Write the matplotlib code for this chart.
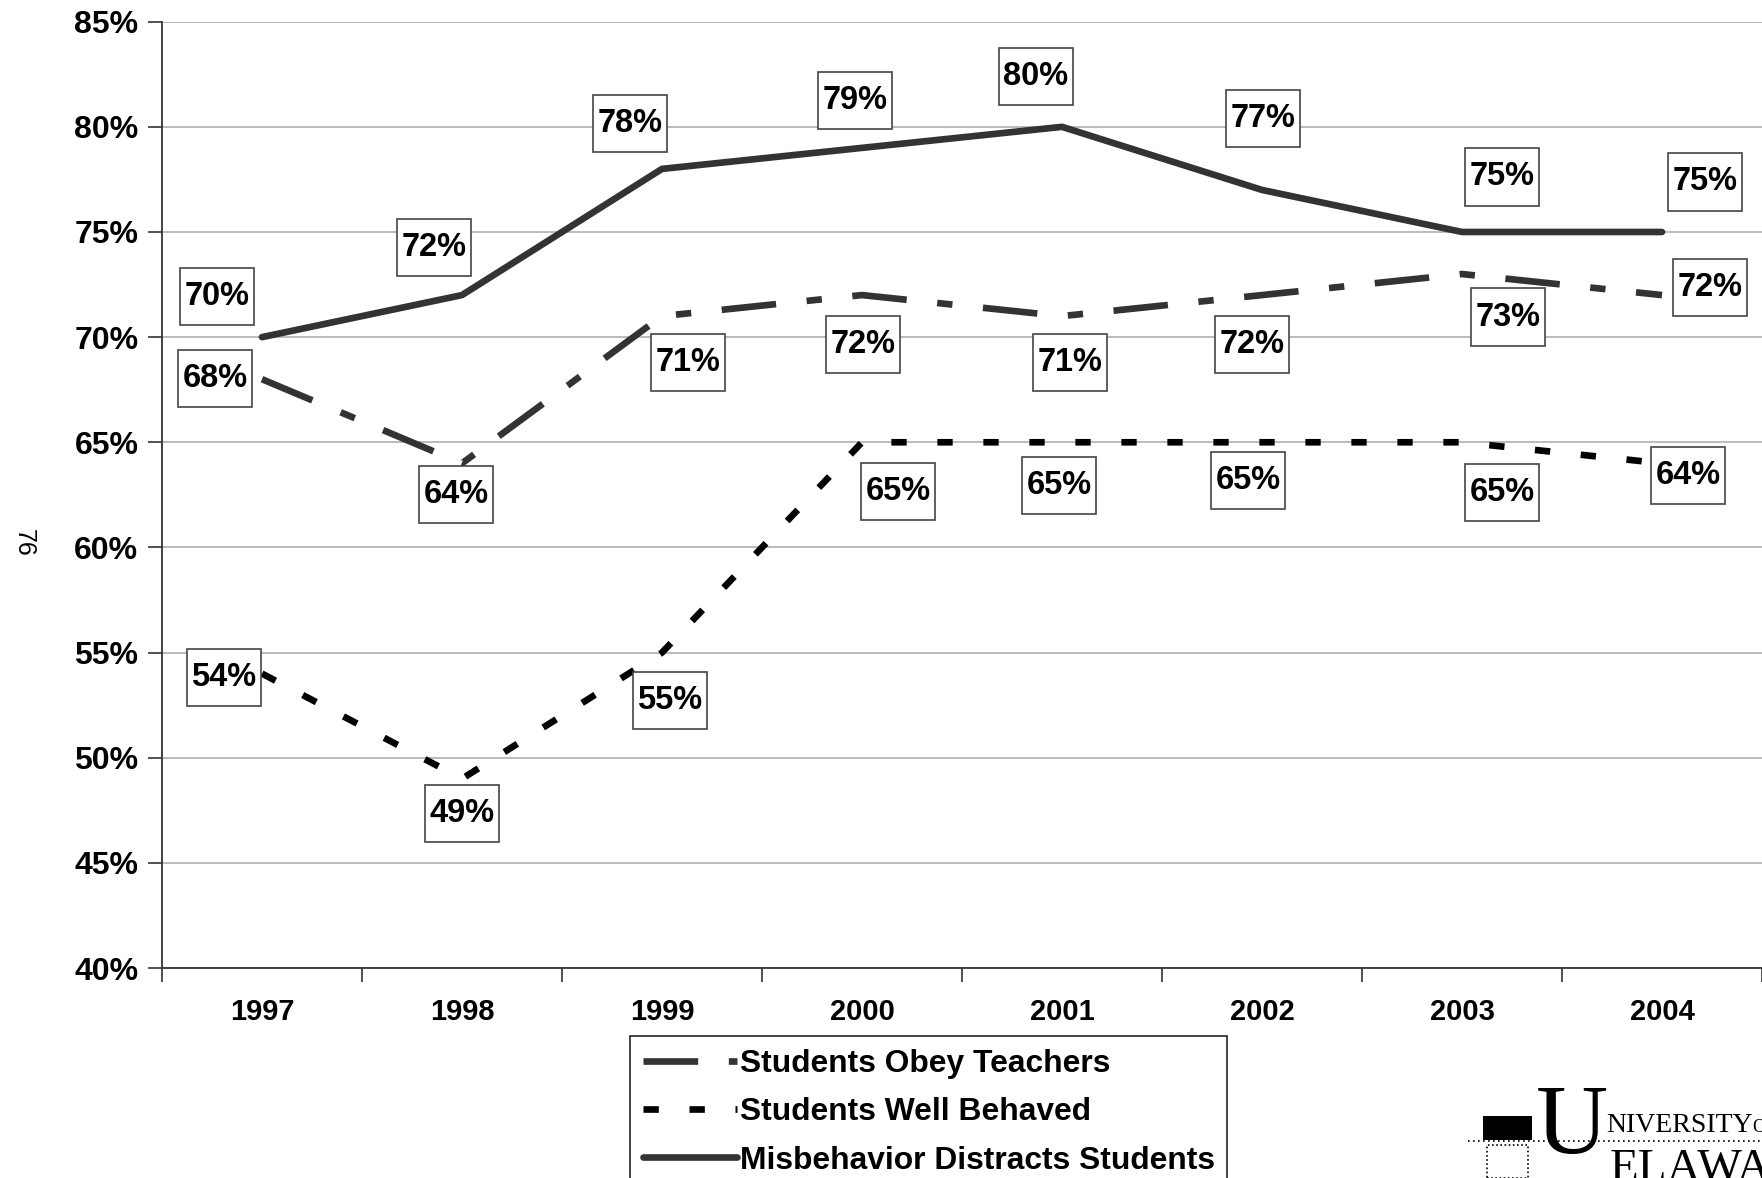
import matplotlib
matplotlib.use("Agg")
import matplotlib.pyplot as plt
from matplotlib.path import Path
from matplotlib.patches import Rectangle
from matplotlib.lines import Line2D

plt.rcParams['font.family'] = ['Liberation Sans', 'DejaVu Sans']

# data
years = ['1997', '1998', '1999', '2000', '2001', '2002', '2003', '2004']
obey = [68, 64, 71, 72, 71, 72, 73, 72]
behaved = [54, 49, 55, 65, 65, 65, 65, 64]
distracts = [70, 72, 78, 79, 80, 77, 75, 75]
yticks = [40, 45, 50, 55, 60, 65, 70, 75, 80, 85]

# where each value box sits relative to its point (pixels, y down)
distracts_off = [(-45, -40), (-28, -47), (-32, -44), (-7, -46), (-26, -49), (1, -70), (40, -54), (43, -49)]
obey_off = [(-47, 0), (-6, 32), (26, 47), (1, 50), (8, 47), (-10, 50), (46, 44), (48, -7)]
behaved_off = [(-38, 5), (0, 36), (8, 49), (36, 50), (-3, 44), (-14, 39), (40, 51), (26, 13)]

W, H = 1762, 1178


def label_box(x0, y0, width, height, mutation_size):
    # square box, tight left/right, taller top/bottom
    px = 0.15 * mutation_size
    py = 0.4 * mutation_size
    x0, y0 = x0 - px, y0 - py
    x1, y1 = x0 + width + 2 * px, y0 + height + 2 * py
    return Path([(x0, y0), (x1, y0), (x1, y1), (x0, y1), (x0, y0)], closed=True)


fig = plt.figure(figsize=(W / 100, H / 100), dpi=100)
ax = fig.add_axes([162 / W, 1 - 968 / H, 1600 / W, (968 - 21.7) / H])

x = list(range(len(years)))
lw = 4.8
ax.plot(x, obey, color='#333333', lw=lw, dashes=(8.2, 4.6, 2.3, 4.6),
        label='Students Obey Teachers', zorder=3)
ax.plot(x, behaved, color='black', lw=lw, dashes=(2.3, 4.6),
        label='Students Well Behaved', zorder=3)
ax.plot(x, distracts, color='#333333', lw=lw, solid_capstyle='round',
        solid_joinstyle='round', label='Misbehavior Distracts Students', zorder=3)

for series, offs in [(distracts, distracts_off), (obey, obey_off), (behaved, behaved_off)]:
    for i, v in enumerate(series):
        dx, dy = offs[i]
        ax.annotate(f'{v}%', (i, v), xytext=(dx, -dy + 1), textcoords='offset pixels',
                    ha='center', va='center', fontsize=23.5, fontweight='bold', zorder=5,
                    bbox=dict(boxstyle=label_box, fc='white', ec='#444444', lw=1.2))

ax.set_xlim(-0.5, 7.5)
ax.set_ylim(40, 85)
ax.set_yticks(yticks)
ax.set_yticklabels([f'{v}%' for v in yticks])
ax.set_xticks(x)
ax.set_xticklabels(years)
ax.set_xticks([i - 0.5 for i in range(len(years) + 1)], minor=True)

ax.yaxis.grid(True, color='#a8a8a8', lw=1.1)
ax.set_axisbelow(True)
for s in ['top', 'right']:
    ax.spines[s].set_visible(False)
for s in ['left', 'bottom']:
    ax.spines[s].set_color('#333333')
    ax.spines[s].set_linewidth(1.3)

ax.tick_params(axis='y', length=10, width=1.2, color='#333333', pad=7, labelsize=23)
ax.tick_params(axis='x', which='major', length=0, pad=21.5, labelsize=21)
ax.tick_params(axis='x', which='minor', length=10, width=1.2, color='#333333')
for t in ax.get_yticklabels() + ax.get_xticklabels():
    t.set_fontweight('bold')

fig.legend(loc='upper left', bbox_to_anchor=(630 / W, 1 - 1036 / H),
           prop=dict(weight='bold', size=22.9), handlelength=2.95, handletextpad=0.1,
           borderaxespad=0, fancybox=False, edgecolor='#222222', framealpha=1,
           borderpad=0.4, labelspacing=0.58).get_frame().set_linewidth(1.2)

# page number
fig.text(24 / W, 1 - 543 / H, '76', rotation=270, fontsize=18, ha='center', va='center')

# rough University of Delaware logo, cut off at the corner
fig.add_artist(Rectangle((1483 / W, 1 - 1140 / H), 49 / W, 24 / H, transform=fig.transFigure,
                         fc='black', ec='none'))
fig.add_artist(Rectangle((1487 / W, 1 - 1178 / H), 41 / W, 33 / H, transform=fig.transFigure,
                         fc='none', ec='black', lw=1.2, ls=(0, (1, 1.5))))
fig.add_artist(Line2D([1468 / W, 1], [1 - 1141 / H] * 2, transform=fig.transFigure,
                      color='black', lw=1.2, ls=(0, (1, 2))))
serif = ['Liberation Serif', 'DejaVu Serif']
fig.text(1536 / W, 1 - 1084 / H, 'U', fontsize=72, family=serif, va='top', ha='left')
fig.text(1606 / W, 1 - 1132 / H, 'NIVERSITY', fontsize=20, family=serif,
         va='baseline', ha='left')
fig.text(1752 / W, 1 - 1132 / H, 'OF', fontsize=13, family=serif, va='baseline', ha='left')
fig.text(1610 / W, 1 - 1148 / H, 'ELAWARE', fontsize=34, family=serif, va='top', ha='left')

fig.savefig('out.png', dpi=100)
